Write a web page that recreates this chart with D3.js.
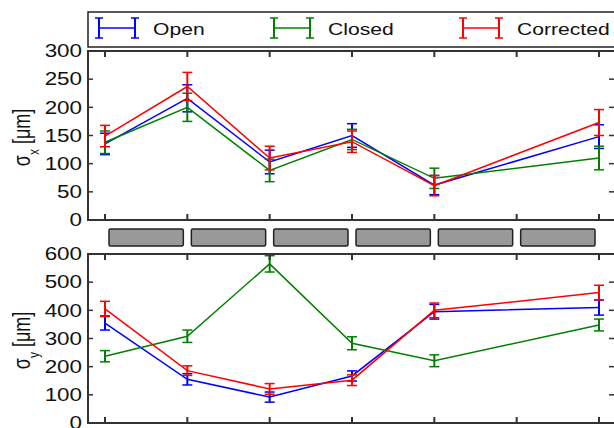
<!DOCTYPE html>
<html>
<head>
<meta charset="utf-8">
<script src="https://cdn.jsdelivr.net/npm/d3@7"></script>
<style>
  body { margin: 0; background: #fff; }
  svg text { font-family: "Liberation Sans", Arial, sans-serif; fill: #111; }
</style>
</head>
<body>
<svg id="chart" width="614" height="428"></svg>
<script>
// --- data ---
var positions = [0, 1, 2, 3, 4, 6];
var seriesNames = ["Open", "Closed", "Corrected"];
var seriesColors = ["#0000ff", "#008000", "#ff0000"];

// sigma_x [um]
var sxOpen      = [135, 216, 103, 150, 62, 148];
var sxOpenErr   = [19, 24, 21, 21, 17, 21];
var sxClosed    = [138, 200, 88, 143, 74, 110];
var sxClosedErr = [20, 25, 20, 18, 18, 21];
var sxCorr      = [149, 237, 110, 139, 61, 173];
var sxCorrErr   = [19, 25, 21, 19, 18, 23];

// sigma_y [um]
var syOpen      = [355, 155, 92, 167, 395, 410];
var syOpenErr   = [25, 20, 18, 18, 26, 27];
var syClosed    = [237, 308, 565, 283, 221, 348];
var syClosedErr = [20, 22, 29, 23, 21, 21];
var syCorr      = [405, 186, 121, 152, 400, 463];
var syCorrErr   = [27, 17, 19, 19, 26, 26];

var topTicks = [0, 50, 100, 150, 200, 250, 300];
var botTicks = [0, 100, 200, 300, 400, 500, 600];
var xTicks = [0, 1, 2, 3, 4, 5, 6];

// --- layout ---
var svg = d3.select("#chart");
var left = 88, right = 616;
var stretch = 1.28;      // reference text is horizontally stretched
var axisColor = "#333";

var x = d3.scaleLinear().domain([0, 6]).range([105, 599]);
var yTop = d3.scaleLinear().domain([0, 300]).range([220, 51]);
var yBot = d3.scaleLinear().domain([0, 600]).range([423, 254]);

function stretchedText(g, tx, ty, str, size, anchor) {
    return g.append("text")
        .attr("transform", "translate(" + tx + "," + ty + ") scale(" + stretch + ",1)")
        .attr("text-anchor", anchor)
        .style("font-size", size + "px")
        .text(str);
}

function drawPanel(y, ticks, series, label) {
    var g = svg.append("g");
    var y0 = y.range()[0], y1 = y.range()[1];

    // series: line + error bars
    series.forEach(function(s) {
        var pts = positions.map(function(p, i) { return { x: p, v: s.vals[i], e: s.errs[i] }; });
        var line = d3.line().x(d => x(d.x)).y(d => y(d.v));
        g.append("path")
            .attr("d", line(pts))
            .attr("fill", "none")
            .attr("stroke", s.color)
            .attr("stroke-width", 1.5);
        pts.forEach(function(d) {
            var cx = x(d.x);
            g.append("line").attr("x1", cx).attr("x2", cx)
                .attr("y1", y(d.v - d.e)).attr("y2", y(d.v + d.e))
                .attr("stroke", s.color).attr("stroke-width", 2);
            [d.v - d.e, d.v + d.e].forEach(function(v) {
                g.append("line").attr("x1", cx - 5).attr("x2", cx + 5)
                    .attr("y1", y(v)).attr("y2", y(v))
                    .attr("stroke", s.color).attr("stroke-width", 1.5);
            });
        });
    });

    // frame
    g.append("rect")
        .attr("x", left).attr("y", y1)
        .attr("width", right - left).attr("height", y0 - y1)
        .attr("fill", "none").attr("stroke", axisColor).attr("stroke-width", 2);

    // x ticks (top and bottom, inward)
    xTicks.forEach(function(t) {
        g.append("line").attr("x1", x(t)).attr("x2", x(t))
            .attr("y1", y0).attr("y2", y0 - 6).attr("stroke", axisColor).attr("stroke-width", 2);
        g.append("line").attr("x1", x(t)).attr("x2", x(t))
            .attr("y1", y1).attr("y2", y1 + 6).attr("stroke", axisColor).attr("stroke-width", 2);
    });

    // y ticks + labels
    ticks.forEach(function(t) {
        g.append("line").attr("x1", left).attr("x2", left + 5)
            .attr("y1", y(t)).attr("y2", y(t)).attr("stroke", axisColor).attr("stroke-width", 1.5);
        g.append("line").attr("x1", right - 7).attr("x2", right)
            .attr("y1", y(t)).attr("y2", y(t)).attr("stroke", axisColor).attr("stroke-width", 1.5);
        stretchedText(g, 82, y(t) + 6.3, t, 17.5, "end");
    });

    // rotated axis label
    var lab = g.append("text")
        .attr("transform", "translate(30," + ((y0 + y1) / 2 + 2) + ") rotate(-90) scale(1," + stretch + ")")
        .attr("text-anchor", "middle")
        .style("font-size", "18px");
    lab.append("tspan").text("\u03c3");
    lab.append("tspan").attr("baseline-shift", "sub").style("font-size", "12px").text(label);
    lab.append("tspan").text(" [\u03bcm]");
}

drawPanel(yTop, topTicks, [
    { vals: sxOpen, errs: sxOpenErr, color: seriesColors[0] },
    { vals: sxClosed, errs: sxClosedErr, color: seriesColors[1] },
    { vals: sxCorr, errs: sxCorrErr, color: seriesColors[2] }
], "x");

drawPanel(yBot, botTicks, [
    { vals: syOpen, errs: syOpenErr, color: seriesColors[0] },
    { vals: syClosed, errs: syClosedErr, color: seriesColors[1] },
    { vals: syCorr, errs: syCorrErr, color: seriesColors[2] }
], "y");

// gray segments between panels
d3.range(6).forEach(function(i) {
    svg.append("rect")
        .attr("x", x(i) + 4).attr("y", 229)
        .attr("width", x(i + 1) - x(i) - 8).attr("height", 17)
        .attr("rx", 1.5)
        .attr("fill", "#999").attr("stroke", "#222").attr("stroke-width", 1.5);
});

// legend
var leg = svg.append("g");
leg.append("rect").attr("x", left).attr("y", 12).attr("width", 540).attr("height", 35)
    .attr("fill", "#fff").attr("stroke", "#222").attr("stroke-width", 1.5);
var legIconX = [99, 274, 463];
seriesNames.forEach(function(name, i) {
    var x0 = legIconX[i], x1 = x0 + 36, c = seriesColors[i];
    leg.append("line").attr("x1", x0).attr("x2", x1).attr("y1", 28).attr("y2", 28)
        .attr("stroke", c).attr("stroke-width", 1.5);
    [x0, x1].forEach(function(xx) {
        leg.append("line").attr("x1", xx).attr("x2", xx).attr("y1", 18).attr("y2", 38)
            .attr("stroke", c).attr("stroke-width", 2);
        leg.append("line").attr("x1", xx - 4).attr("x2", xx + 4).attr("y1", 18).attr("y2", 18)
            .attr("stroke", c).attr("stroke-width", 1.5);
        leg.append("line").attr("x1", xx - 4).attr("x2", xx + 4).attr("y1", 38).attr("y2", 38)
            .attr("stroke", c).attr("stroke-width", 1.5);
    });
    stretchedText(leg, x1 + 18, 34.5, name, 16.5, "start");
});
</script>
</body>
</html>
